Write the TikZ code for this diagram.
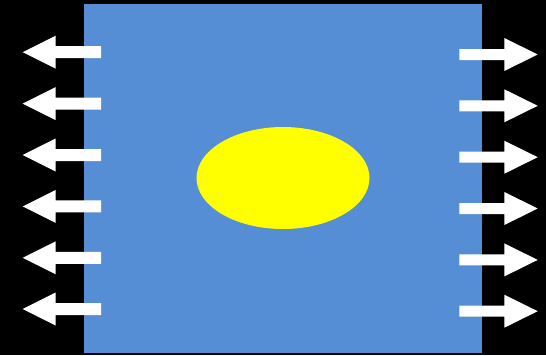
\documentclass[tikz,border=0pt]{standalone}
\usepackage{tikz}
\usetikzlibrary{positioning}

\begin{document}
\begin{tikzpicture}[x=0.02cm,y=-0.02cm]
			\definecolor{slabblue}{RGB}{85,142,213}
			\definecolor{blobyellow}{RGB}{255,255,0}
			\colorlet{arrowfill}{white}
			
			% ---------- background ----------
			\fill[black] (0,0) rectangle (546,355);
			\useasboundingbox (0,0) rectangle (546,355);
			
			% ---------- slab with inclusion ----------
			\fill[slabblue] (84,4) rectangle (482,352.7);
			\fill[blobyellow] (283,178) ellipse (86.5 and 51);
			
			% ---------- left arrows (pointing out) ----------
			\foreach \y in {52.2,103.6,155,206.4,257.8,309}{
				\fill[arrowfill] (22.7,\y) -- (55.7,\y-16.5) -- (55.7,\y-6)
					-- (101,\y-6) -- (101,\y+6) -- (55.7,\y+6)
					-- (55.7,\y+16.5) -- cycle;
			}
			
			% ---------- right arrows (pointing out) ----------
			\foreach \y in {54.5,105.8,157.2,208.5,259.9,311.2}{
				\fill[arrowfill] (537.7,\y) -- (504.3,\y-16.5) -- (504.3,\y-5.5)
					-- (459.3,\y-5.5) -- (459.3,\y+5.5) -- (504.3,\y+5.5)
					-- (504.3,\y+16.5) -- cycle;
			}
			
		\end{tikzpicture}
\end{document}
